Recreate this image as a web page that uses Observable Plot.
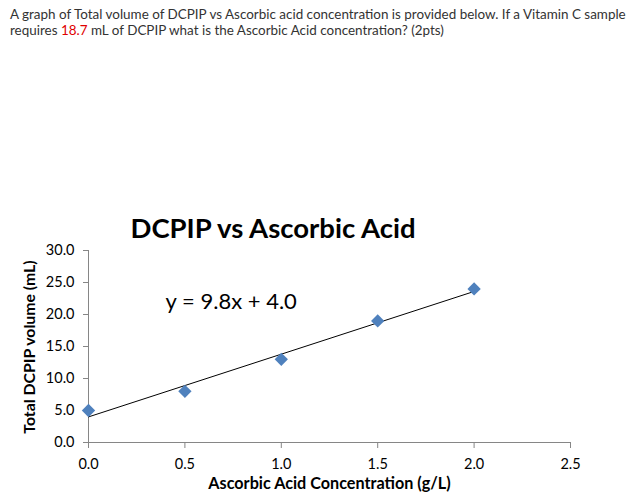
<!DOCTYPE html>
<html>
<head>
<meta charset="utf-8">
<script src="https://cdn.jsdelivr.net/npm/d3@7"></script>
<script src="https://cdn.jsdelivr.net/npm/@observablehq/plot@0.6"></script>
<style>
  html, body { margin: 0; padding: 0; background: #fff; width: 640px; height: 503px; overflow: hidden; }
  body { position: relative; font-family: Lato, "Open Sans", sans-serif; }
  .pline { position: absolute; left: 10px; font-size: 13.45px; line-height: 17px; color: #333; white-space: nowrap; }
  .pline span { color: #333; }
  .pline span.red { color: #e00000; }
  #title { position: absolute; left: 0; width: 546px; top: 211px; text-align: center; font-size: 27.5px; font-weight: bold; color: #000; }
  #chart { position: absolute; left: 0; top: 240px; }
  #ylabel { position: absolute; left: 28px; top: 347px; transform: translate(-50%, -50%) rotate(-90deg); white-space: nowrap; font-size: 15.8px; font-weight: bold; color: #000; }
</style>
</head>
<body>
<div class="pline" style="top:6px"><span>A graph of Total volume of DCPIP vs Ascorbic acid concentration is provided below. If a Vitamin C sample</span></div>
<div class="pline" style="top:22px"><span>requires </span><span class="red">18.7</span><span> mL of DCPIP what is the Ascorbic Acid concentration? (2pts)</span></div>
<div id="title">DCPIP vs Ascorbic Acid</div>
<div id="chart"></div>
<div id="ylabel">Total DCPIP volume (mL)</div>
<script>
const concentration = [0.0, 0.5, 1.0, 1.5, 2.0];
const volume = [5.0, 8.0, 13.0, 19.0, 24.0];
const xTicks = [0, 0.5, 1.0, 1.5, 2.0, 2.5];
const yTicks = [0, 5, 10, 15, 20, 25, 30];
const equationLabel = ["y = 9.8x + 4.0"];
const xLabel = "Ascorbic Acid Concentration (g/L)";

const data = concentration.map((c, i) => ({x: c, y: volume[i]}));
const axisColor = "#868686";

const chart = Plot.plot({
  width: 640,
  height: 263,
  marginLeft: 88,
  marginRight: 70,
  marginTop: 10,
  marginBottom: 61,
  style: {fontFamily: "Lato, 'Open Sans', sans-serif", fontSize: "14px", color: "#000", background: "white"},
  x: {domain: [0, 2.5]},
  y: {domain: [0, 30]},
  marks: [
    Plot.ruleY([0], {stroke: axisColor}),
    Plot.ruleX([0], {y1: 0, y2: 30, stroke: axisColor}),
    Plot.axisX(xTicks, {tickSize: 6, tickPadding: 10, stroke: axisColor, tickFormat: d3.format(".1f"), fill: "#000", label: null, fontSize: 14.5}),
    Plot.axisY(yTicks, {tickSize: 5, tickPadding: 9, stroke: axisColor, tickFormat: d3.format(".1f"), fill: "#000", label: null, fontSize: 14.5}),
    Plot.linearRegressionY(data, {x: "x", y: "y", ci: 0, stroke: "#000", strokeWidth: 1}),
    Plot.dot(data, {x: "x", y: "y", symbol: "diamond2", r: 6, fill: "#4F81BD", stroke: "none"}),
    Plot.text(equationLabel, {x: 0.4, y: 22, text: d => d, textAnchor: "start", fontSize: 22, fill: "#000"}),
    Plot.text([xLabel], {frameAnchor: "bottom", dy: 46, text: d => d, fontWeight: "bold", fontSize: 16.2, fill: "#000"})
  ]
});
document.getElementById("chart").appendChild(chart);
</script>
</body>
</html>
